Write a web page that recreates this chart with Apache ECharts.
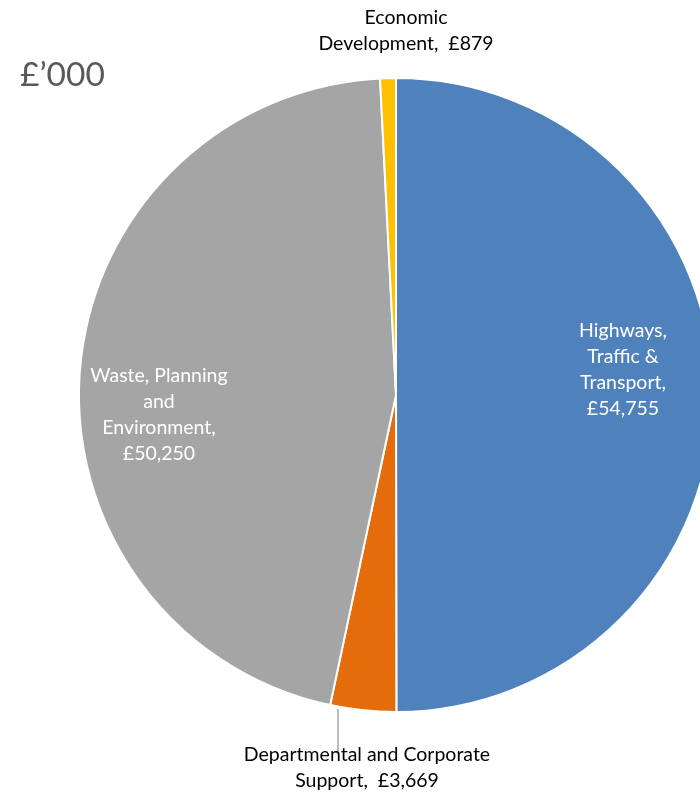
<!DOCTYPE html>
<html>
<head>
<meta charset="utf-8">
<script src="https://cdn.jsdelivr.net/npm/echarts@6/dist/echarts.min.js"></script>
<style>html,body{margin:0;padding:0;background:#fff;}#c{width:700px;height:794px;}</style>
</head>
<body>
<div id="c"></div>
<script>
const categories = ['Highways, Traffic & Transport', 'Departmental and Corporate Support', 'Waste, Planning and Environment', 'Economic Development'];
const values = [54755, 3669, 50250, 879];
const labelLines = [
  'Highways,\nTraffic &\nTransport,\n£54,755',
  'Departmental and Corporate\nSupport,  £3,669',
  'Waste, Planning\nand\nEnvironment,\n£50,250',
  'Economic\nDevelopment,  £879'
];
const colors = ['#4F81BD', '#E46C0A', '#A5A5A5', '#FFC000'];
const unitLabel = '£’000';

const FONT = 'Lato, "Open Sans", sans-serif';
const labelPos = [
  {x: 623, y: 370, inside: true},
  {x: 367, y: 768, inside: false},
  {x: 159, y: 415, inside: true},
  {x: 406, y: 31, inside: false}
];

const chart = echarts.init(document.getElementById('c'));
chart.setOption({
  animation: false,
  title: {
    text: unitLabel, left: 15, top: 53,
    textStyle: {fontFamily: FONT, fontSize: 33.5, fontWeight: 'normal', color: '#595959'}
  },
  series: [{
    type: 'pie',
    center: [396, 395],
    radius: 317,
    startAngle: 90,
    clockwise: true,
    avoidLabelOverlap: false,
    itemStyle: {borderColor: '#fff', borderWidth: 2},
    data: categories.map((n, i) => ({
      name: n,
      value: values[i],
      itemStyle: {color: colors[i]},
      label: {
        show: true,
        position: labelPos[i].inside ? 'inside' : 'outside',
        formatter: labelLines[i],
        color: labelPos[i].inside ? '#fff' : '#000',
        fontFamily: FONT,
        fontSize: 19.5,
        lineHeight: 26,
        align: 'center'
      },
      labelLine: {
        show: i === 1,
        length: 20, length2: 0,
        lineStyle: {color: '#A6A6A6', width: 1.5}
      }
    })),
    labelLayout: function (p) {
      const lp = labelPos[p.dataIndex];
      const out = {x: lp.x, y: lp.y, align: 'center', verticalAlign: 'middle'};
      if (p.dataIndex === 1) {
        out.labelLinePoints = [[338, 709], [338, 730], [338, 754]];
      }
      return out;
    }
  }]
});
</script>
</body>
</html>
